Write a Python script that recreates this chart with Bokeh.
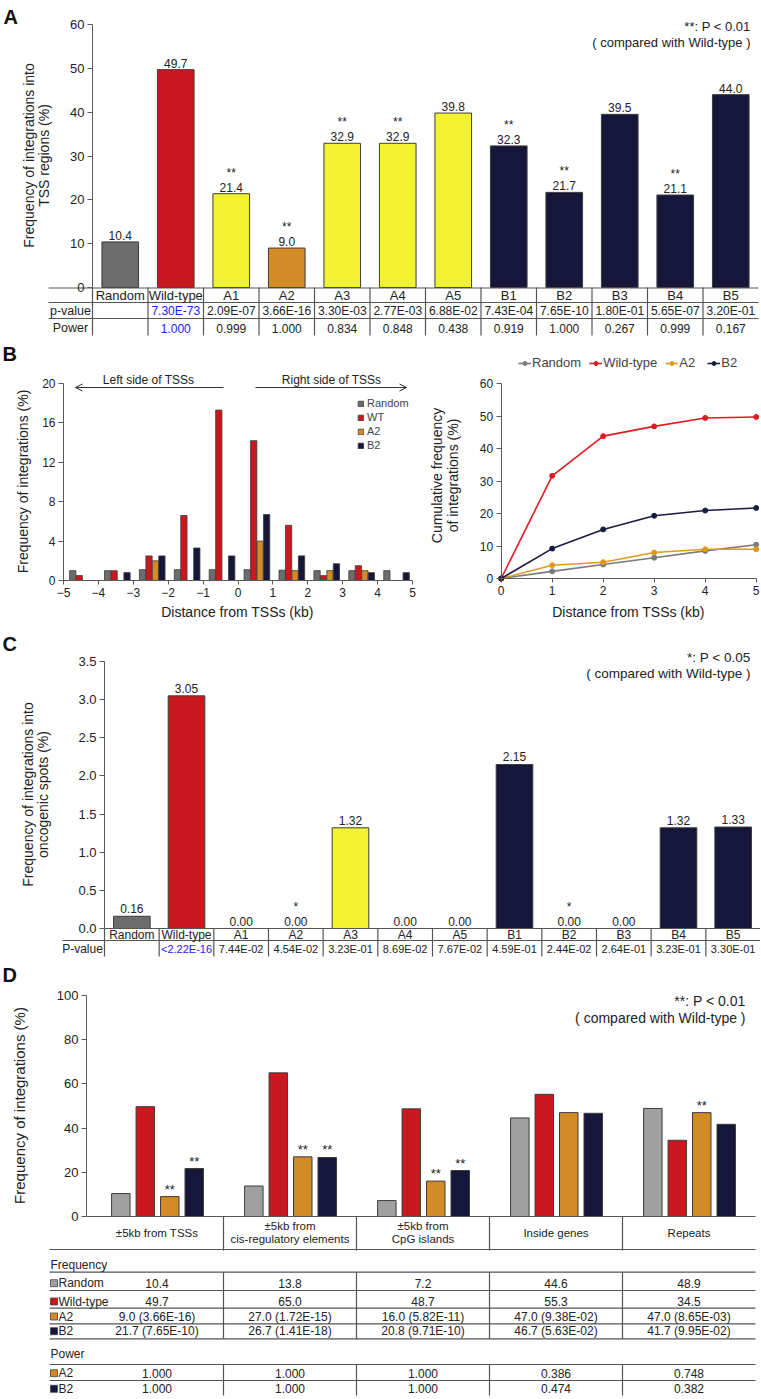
import numpy as np
from bokeh.plotting import figure
from bokeh.models import (Range1d, FixedTicker, ColumnDataSource, Label, Legend, LegendItem,
                          Arrow, OpenHead, PrintfTickFormatter)
from bokeh.layouts import column, row
from bokeh.transform import dodge
from bokeh.core.properties import value
from bokeh.embed import file_html
from bokeh.resources import INLINE

FONT = "Liberation Sans"
INK = "#222222"
AXIS = "#5a5a5a"
LINE = "#555555"
BLUE = "#2020ff"
GRAY = "#6c6c6c"
LGRAY = "#a0a0a0"
RED = "#c9191e"
YELLOW = "#f2f230"
ORANGE = "#d38b28"
NAVY = "#16163a"

# ---------------- Panel A data ----------------
a_groups = ["Random", "Wild-type", "A1", "A2", "A3", "A4", "A5", "B1", "B2", "B3", "B4", "B5"]
a_freq = [10.4, 49.7, 21.4, 9.0, 32.9, 32.9, 39.8, 32.3, 21.7, 39.5, 21.1, 44.0]
a_sig = ["", "", "**", "**", "**", "**", "", "**", "**", "", "**", ""]
a_pvalue = ["", "7.30E-73", "2.09E-07", "3.66E-16", "3.30E-03", "2.77E-03", "6.88E-02",
            "7.43E-04", "7.65E-10", "1.80E-01", "5.65E-07", "3.20E-01"]
a_power = ["", "1.000", "0.999", "1.000", "0.834", "0.848", "0.438", "0.919", "1.000",
           "0.267", "0.999", "0.167"]

# ---------------- Panel B data ----------------
b_bin_start = [-5, -4, -3, -2, -1, 0, 1, 2, 3, 4]
b_random = [1.0, 1.0, 1.1, 1.1, 1.1, 1.1, 1.05, 1.0, 1.0, 1.0]
b_wt = [0.5, 1.0, 2.5, 6.6, 17.3, 14.2, 5.6, 0.5, 1.5, 0.0]
b_a2 = [0.0, 0.0, 2.0, 0.0, 0.0, 4.0, 1.0, 1.0, 1.0, 0.0]
b_b2 = [0.0, 0.8, 2.5, 3.3, 2.5, 6.7, 2.5, 1.7, 0.8, 0.8]

cum_dist = [0, 1, 2, 3, 4, 5]
cum_random = [0.0, 2.2, 4.3, 6.4, 8.5, 10.4]
cum_wt = [0.0, 31.6, 43.8, 46.8, 49.4, 49.7]
cum_a2 = [0.0, 4.1, 5.0, 8.0, 9.0, 9.0]
cum_b2 = [0.0, 9.2, 15.1, 19.3, 20.9, 21.7]

# ---------------- Panel C data ----------------
c_freq = [0.16, 3.05, 0.00, 0.00, 1.32, 0.00, 0.00, 2.15, 0.00, 0.00, 1.32, 1.33]
c_sig = ["", "", "", "*", "", "", "", "", "*", "", "", ""]
c_pvalue = ["", "<2.22E-16", "7.44E-02", "4.54E-02", "3.23E-01", "8.69E-02", "7.67E-02",
            "4.59E-01", "2.44E-02", "2.64E-01", "3.23E-01", "3.30E-01"]

# ---------------- Panel D data ----------------
d_regions = ["\u00b15kb from TSSs", "\u00b15kb from\ncis-regulatory elements",
             "\u00b15kb from\nCpG islands", "Inside genes", "Repeats"]
d_random = [10.4, 13.8, 7.2, 44.6, 48.9]
d_wt = [49.7, 65.0, 48.7, 55.3, 34.5]
d_a2 = [9.0, 27.0, 16.0, 47.0, 47.0]
d_b2 = [21.7, 26.7, 20.8, 46.7, 41.7]
d_a2_p = ["3.66E-16", "1.72E-15", "5.82E-11", "9.38E-02", "8.65E-03"]
d_b2_p = ["7.65E-10", "1.41E-18", "9.71E-10", "5.63E-02", "9.95E-02"]
d_a2_sig = ["**", "**", "**", "", "**"]
d_b2_sig = ["**", "**", "**", "", ""]
d_a2_power = ["1.000", "1.000", "1.000", "0.386", "0.748"]
d_b2_power = ["1.000", "1.000", "1.000", "0.474", "0.382"]


# ---------------- helpers ----------------
def lin(a0, a1, b0, b1):
    k = (b1 - b0) / (a1 - a0)
    return lambda v: b0 + (v - a0) * k


def base_fig(w, h, xm, ym, left, top, xaxis=False, yaxis=False):
    # frame fills the whole figure; xm/ym map page pixels to data
    p = figure(width=w, height=h,
               x_range=Range1d(xm(left), xm(left + w)), y_range=Range1d(ym(top + h), ym(top)),
               output_backend="svg", toolbar_location=None, tools="",
               x_axis_location="below" if xaxis else None,
               y_axis_location="left" if yaxis else None,
               min_border_left=0, min_border_right=0, min_border_top=0, min_border_bottom=0)
    p.outline_line_color = None
    p.grid.visible = False
    p.background_fill_color = "white"
    p.border_fill_color = "white"
    return p


def style_axis(ax, ticks, bounds, size, loc, tick_out=5):
    ax.fixed_location = loc
    ax.ticker = FixedTicker(ticks=ticks)
    ax.bounds = bounds
    ax.axis_line_color = AXIS
    ax.major_tick_line_color = AXIS
    ax.minor_tick_line_color = None
    ax.major_tick_in = 0
    ax.major_tick_out = tick_out
    ax.major_label_standoff = 3
    ax.major_label_text_font = FONT
    ax.major_label_text_font_size = size
    ax.major_label_text_color = INK
    ax.axis_label = None


def put(p, x, y, text, size, align="left", style="normal", color=INK, angle=0.0):
    p.add_layout(Label(x=x, y=y, text=text, text_align=align, text_baseline="middle",
                       text_font=FONT, text_font_size=size, text_font_style=style,
                       text_color=color, angle=angle))


def txt(p, xs, ys, texts, size, align="center", color=INK, line_height=1.15):
    cols = list(color) if isinstance(color, list) else [color] * len(texts)
    src = ColumnDataSource(dict(x=list(xs), y=list(ys), t=list(texts), c=cols))
    p.text(x="x", y="y", text="t", text_color="c", source=src, text_align=align,
           text_baseline="middle", text_font=value(FONT), text_font_size=size,
           text_line_height=line_height)


def hseg(p, x0, x1, ys, color=LINE, w=1.2):
    p.segment(x0=[x0] * len(ys), x1=[x1] * len(ys), y0=ys, y1=ys, line_color=color, line_width=w)


def vseg(p, xs, y0, y1, color=LINE, w=1.2):
    p.segment(x0=xs, x1=xs, y0=[y0] * len(xs), y1=[y1] * len(xs), line_color=color, line_width=w)


def group_colour(g):
    if g == "Random":
        return GRAY
    if g == "Wild-type":
        return RED
    if g == "A2":
        return ORANGE
    if g.startswith("A"):
        return YELLOW
    return NAVY


W = 760
ROT = np.pi / 2

# =============== Panel A ===============
xa = lin(92, 758, -0.5, 11.5)
ya = lin(287, 24, 0, 60)
pa = base_fig(W, 340, xa, ya, 0, 0, yaxis=True)
a_x = list(range(len(a_groups)))
srcA = ColumnDataSource(dict(x=a_x, top=a_freq, color=[group_colour(g) for g in a_groups],
                             lab=[f"{v:.1f}" for v in a_freq], sig=a_sig))
pa.vbar(x="x", top="top", width=0.66, bottom=0, fill_color="color", line_color="#3c3c3c",
        line_width=1, source=srcA)
pa.text(x="x", y="top", text="lab", source=srcA, text_align="center", text_baseline="bottom",
        y_offset=-2, text_font=value(FONT), text_font_size="12px", text_color=INK)
pa.text(x="x", y="top", text="sig", source=srcA, text_align="center", text_baseline="bottom",
        y_offset=-14, text_font=value(FONT), text_font_size="12px", text_color=INK)
style_axis(pa.yaxis[0], [0, 10, 20, 30, 40, 50, 60], (0, 60), "13px", -0.5)
put(pa, xa(28), ya(155), "Frequency of integrations into", "14px", align="center", angle=ROT)
put(pa, xa(43), ya(155), "TSS regions (%)", "14px", align="center", angle=ROT)
put(pa, xa(3), ya(16), "A", "20px", style="bold", color="#111111")
put(pa, xa(750), ya(26), "**: P < 0.01", "13px", align="right")
put(pa, xa(750), ya(42), "( compared with Wild-type )", "13px", align="right")
# table under the bars
a_cell_col = [BLUE if g == "Wild-type" else INK for g in a_groups]
hseg(pa, xa(48), 11.5, [ya(287.5), ya(302), ya(318)])
vseg(pa, [i - 0.5 for i in a_x], ya(287), ya(335))
txt(pa, a_x, [ya(295)] * 12, a_groups, "13px")
txt(pa, a_x, [ya(310.5)] * 12, a_pvalue, "12px", color=a_cell_col)
txt(pa, a_x, [ya(327.5)] * 12, a_power, "12px", color=a_cell_col)
txt(pa, [xa(70), xa(70)], [ya(310.5), ya(327.5)], ["p-value", "Power"], "12.5px")

# =============== Panel B: histogram ===============
xb = lin(63, 412, -5, 5)
yb = lin(580, 383, 0, 20)
pb = base_fig(420, 280, xb, yb, 0, 340, xaxis=True, yaxis=True)
b_centre = [s + 0.5 for s in b_bin_start]
srcB = ColumnDataSource(dict(x=b_centre, r=b_random, w=b_wt, a=b_a2, b=b_b2))
rb = []
for fld, off, col in [("r", -0.235, GRAY), ("w", -0.05, RED), ("a", 0.135, ORANGE), ("b", 0.32, NAVY)]:
    rb.append(pb.vbar(x=dodge("x", off, range=pb.x_range), top=fld, width=0.18, bottom=0,
                      fill_color=col, line_color="#3c3c3c", line_width=0.8, source=srcB))
style_axis(pb.yaxis[0], [0, 4, 8, 12, 16, 20], (0, 20), "12px", -5)
style_axis(pb.xaxis[0], list(range(-5, 6)), (-5, 5), "12px", 0, tick_out=4)
put(pb, xb(237), yb(611), "Distance from TSSs (kb)", "14px", align="center")
put(pb, xb(22), yb(481), "Frequency of integrations (%)", "14px", align="center", angle=ROT)
legB = Legend(items=[LegendItem(label=l, renderers=[r]) for l, r in
                     zip(["Random", "WT", "A2", "B2"], rb)],
              location=(357, 169), orientation="vertical", glyph_width=7, glyph_height=7,
              label_text_font=FONT, label_text_font_size="11px", label_standoff=3,
              spacing=2, padding=0, margin=0, border_line_color=None,
              background_fill_alpha=0, label_height=12)
pb.add_layout(legB)
pb.add_layout(Arrow(end=OpenHead(size=7, line_color="#333333", line_width=1),
                    x_start=xb(223), y_start=yb(387), x_end=xb(75), y_end=yb(387),
                    line_color="#333333", line_width=1))
pb.add_layout(Arrow(end=OpenHead(size=7, line_color="#333333", line_width=1),
                    x_start=xb(255), y_start=yb(387), x_end=xb(406), y_end=yb(387),
                    line_color="#333333", line_width=1))
put(pb, xb(148), yb(379), "Left side of TSSs", "12px", align="center")
put(pb, xb(331), yb(379), "Right side of TSSs", "12px", align="center")
put(pb, xb(2), yb(353), "B", "20px", style="bold", color="#111111")

# =============== Panel B: cumulative ===============
xc = lin(500.7, 755.7, 0, 5)
yc = lin(578, 383, 0, 60)
pc = base_fig(340, 280, xc, yc, 420, 340, xaxis=True, yaxis=True)
cum_cols = {"Random": "#7a7a7a", "Wild-type": "#e01a22", "A2": "#e0991f", "B2": "#1b1b40"}
items = []
for name, ys in [("Random", cum_random), ("Wild-type", cum_wt), ("A2", cum_a2), ("B2", cum_b2)]:
    l = pc.line(cum_dist, ys, line_color=cum_cols[name], line_width=1.6)
    s = pc.scatter(cum_dist, ys, size=5, fill_color=cum_cols[name], line_color=cum_cols[name])
    items.append(LegendItem(label=name, renderers=[l, s]))
style_axis(pc.yaxis[0], [0, 10, 20, 30, 40, 50, 60], (0, 60), "12px", 0)
style_axis(pc.xaxis[0], [0, 1, 2, 3, 4, 5], (0, 5), "12px", 0, tick_out=4)
put(pc, xc(628), yc(611), "Distance from TSSs (kb)", "14px", align="center")
put(pc, xc(436), yc(475), "Cumulative frequency", "14px", align="center", angle=ROT)
put(pc, xc(452), yc(475), "of integrations (%)", "14px", align="center", angle=ROT)
legC = Legend(items=items, location=(98, 250), orientation="horizontal", glyph_width=13,
              glyph_height=10, label_text_font=FONT, label_text_font_size="13px",
              label_standoff=1, spacing=8, padding=0, margin=0, border_line_color=None,
              background_fill_alpha=0)
pc.add_layout(legC)

# =============== Panel C ===============
xC = lin(104, 760, -0.5, 11.5)
yC = lin(928, 661, 0, 3.5)
pcc = base_fig(W, 340, xC, yC, 0, 620, yaxis=True)
srcC = ColumnDataSource(dict(x=a_x, top=c_freq, color=[group_colour(g) for g in a_groups],
                             lab=[f"{v:.2f}" for v in c_freq], sig=c_sig))
pcc.vbar(x="x", top="top", width=0.67, bottom=0, fill_color="color", line_color="#3c3c3c",
         line_width=1, source=srcC)
pcc.text(x="x", y="top", text="lab", source=srcC, text_align="center", text_baseline="bottom",
         y_offset=-3, text_font=value(FONT), text_font_size="12px", text_color=INK)
pcc.text(x="x", y="top", text="sig", source=srcC, text_align="center", text_baseline="bottom",
         y_offset=-15, text_font=value(FONT), text_font_size="12px", text_color=INK)
style_axis(pcc.yaxis[0], [0, 0.5, 1.0, 1.5, 2.0, 2.5, 3.0, 3.5], (0, 3.5), "13px", -0.5)
pcc.yaxis[0].formatter = PrintfTickFormatter(format="%.1f")
put(pcc, xC(27), yC(794), "Frequency of integrations into", "14px", align="center", angle=ROT)
put(pcc, xC(42), yC(794), "oncogenic spots (%)", "14px", align="center", angle=ROT)
put(pcc, xC(2), yC(643), "C", "20px", style="bold", color="#111111")
put(pcc, xC(750), yC(657), "*: P < 0.05", "13.5px", align="right")
put(pcc, xC(750), yC(673), "( compared with Wild-type )", "13.5px", align="right")
hseg(pcc, -0.5, 11.5, [yC(928)])
hseg(pcc, xC(62), 11.5, [yC(940)])
vseg(pcc, [i - 0.5 for i in a_x], yC(928), yC(956))
txt(pcc, a_x, [yC(934)] * 12, a_groups, "12px")
txt(pcc, a_x, [yC(948.5)] * 12, c_pvalue, "11px", color=a_cell_col)
txt(pcc, [xC(82)], [yC(948.5)], ["P-value"], "12px")

# =============== Panel D ===============
xD = lin(90, 755, -0.5, 4.5)
yD = lin(1216, 995, 0, 100)
pd1 = base_fig(W, 438, xD, yD, 0, 960, yaxis=True)
d_x = list(range(len(d_regions)))
srcD = ColumnDataSource(dict(x=d_x, r=d_random, w=d_wt, a=d_a2, b=d_b2,
                             sa=d_a2_sig, sb=d_b2_sig))
for fld, off, col in [("r", -0.272, LGRAY), ("w", -0.088, RED), ("a", 0.096, ORANGE), ("b", 0.28, NAVY)]:
    pd1.vbar(x=dodge("x", off, range=pd1.x_range), top=fld, width=0.139, bottom=0,
             fill_color=col, line_color="#3c3c3c", line_width=1, source=srcD)
for fld, sfld, off in [("a", "sa", 0.096), ("b", "sb", 0.28)]:
    pd1.text(x=dodge("x", off, range=pd1.x_range), y=fld, text=sfld, source=srcD,
             text_align="center", text_baseline="bottom", y_offset=0,
             text_font=value(FONT), text_font_size="13px", text_color=INK)
style_axis(pd1.yaxis[0], [0, 20, 40, 60, 80, 100], (0, 100), "13px", xD(86))
put(pd1, xD(19), yD(1105), "Frequency of integrations (%)", "15px", align="center", angle=ROT)
put(pd1, xD(2), yD(974), "D", "20px", style="bold", color="#111111")
put(pd1, xD(745), yD(1000), "**: P < 0.01", "14px", align="right")
put(pd1, xD(745), yD(1017), "( compared with Wild-type )", "14px", align="right")


def ty(t):
    # table rows are laid out in pixels below the zero line
    return yD(1216 + t)


hseg(pd1, xD(86), 4.5, [ty(0)])
hseg(pd1, xD(49), 4.5, [ty(v) for v in [33, 55.7, 74, 91.7, 107.3, 122.3, 148, 164]])
seps = [i + 0.5 for i in d_x[:-1]]
vseg(pd1, seps, ty(0), ty(34))
vseg(pd1, seps, ty(55.7), ty(122.3))
vseg(pd1, seps, ty(148), ty(179))
txt(pd1, d_x, [ty(16)] * 5, d_regions, "11.5px", line_height=1.1)
txt(pd1, [xD(50), xD(50)], [ty(48), ty(137.3)], ["Frequency", "Power"], "12px", align="left")
row_t = [66.7, 85, 100, 114.7, 156.7, 172.3]
txt(pd1, d_x, [ty(row_t[0])] * 5, [f"{v:.1f}" for v in d_random], "12px")
txt(pd1, d_x, [ty(row_t[1])] * 5, [f"{v:.1f}" for v in d_wt], "12px")
txt(pd1, d_x, [ty(row_t[2])] * 5, [f"{v:.1f} ({p})" for v, p in zip(d_a2, d_a2_p)], "12px")
txt(pd1, d_x, [ty(row_t[3])] * 5, [f"{v:.1f} ({p})" for v, p in zip(d_b2, d_b2_p)], "12px")
txt(pd1, d_x, [ty(row_t[4])] * 5, d_a2_power, "12px")
txt(pd1, d_x, [ty(row_t[5])] * 5, d_b2_power, "12px")
key_c = [LGRAY, RED, ORANGE, NAVY, ORANGE, NAVY]
pd1.scatter(x=[xD(53.5)] * 6, y=[ty(t) for t in row_t], marker="square", size=7,
            fill_color=key_c, line_color="#444444", line_width=0.8)
txt(pd1, [xD(58)] * 6, [ty(t) for t in row_t], ["Random", "Wild-type", "A2", "B2", "A2", "B2"],
    "12px", align="left")

layout = column(pa, row(pb, pc), pcc, pd1)
open("out.html", "w").write(file_html(layout, INLINE))
